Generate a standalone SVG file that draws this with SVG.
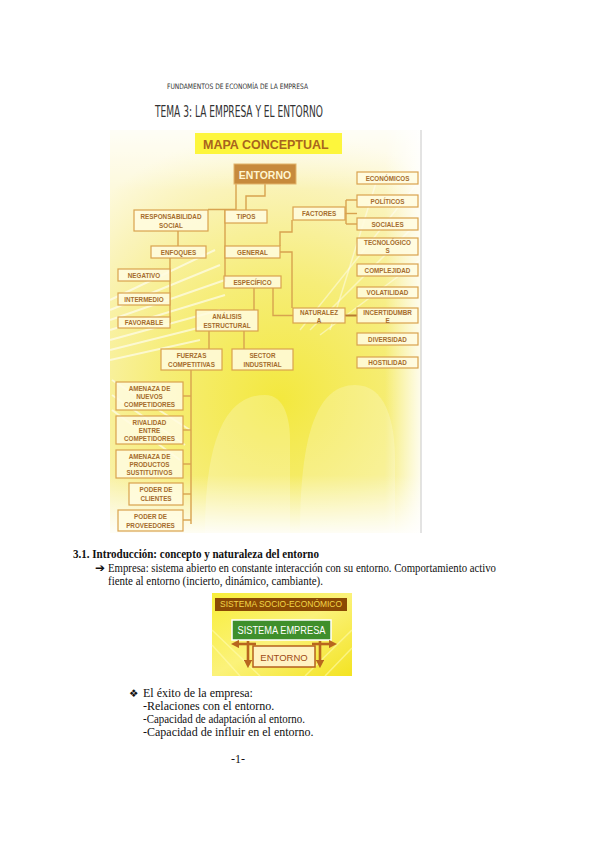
<svg xmlns="http://www.w3.org/2000/svg" width="600" height="848" viewBox="0 0 600 848">
<defs>
<radialGradient id="bg" cx="280" cy="400" r="270" gradientUnits="userSpaceOnUse">
<stop offset="0" stop-color="#f3e83e"/>
<stop offset="0.45" stop-color="#f6ed78"/>
<stop offset="0.8" stop-color="#faf3b8"/>
<stop offset="1" stop-color="#fdf9dc"/>
</radialGradient>
<linearGradient id="fadeB" x1="0" y1="0" x2="0" y2="1">
<stop offset="0" stop-color="#ffffff" stop-opacity="0"/>
<stop offset="1" stop-color="#ffffff" stop-opacity="0.9"/>
</linearGradient>
<linearGradient id="fadeR" x1="0" y1="0" x2="1" y2="0">
<stop offset="0" stop-color="#ffffff" stop-opacity="0"/>
<stop offset="1" stop-color="#ffffff" stop-opacity="0.85"/>
</linearGradient>
<linearGradient id="fadeT" x1="0" y1="0" x2="0" y2="1">
<stop offset="0" stop-color="#ffffff" stop-opacity="0.75"/>
<stop offset="1" stop-color="#ffffff" stop-opacity="0"/>
</linearGradient>
<linearGradient id="sbg" x1="0" y1="0" x2="1" y2="1">
<stop offset="0" stop-color="#f8ee3a"/>
<stop offset="0.5" stop-color="#fbf27a"/>
<stop offset="1" stop-color="#f3e322"/>
</linearGradient>
<marker id="ah" viewBox="0 0 10 10" refX="5" refY="5" markerWidth="3.2" markerHeight="3.2" orient="auto">
<path d="M0,0 L10,5 L0,10 z" fill="#b8661e"/>
</marker>
<style>
.bx{fill:#fffbe0;fill-opacity:0.85;stroke:#d9a24e;stroke-width:1.2}
.t{font-family:"Liberation Sans",Arial,sans-serif;font-size:6.3px;font-weight:bold;fill:#a56c2c;text-anchor:middle;dominant-baseline:central}
.cn path{fill:none;stroke:#d8a34f;stroke-width:1.4}
.body{font-family:"Liberation Serif","Times New Roman",serif;font-size:12px;fill:#111}
.hd{font-family:"DejaVu Sans Condensed","DejaVu Sans",sans-serif;fill:#333}
</style>
</defs>
<rect width="600" height="848" fill="#ffffff"/>

<!-- header -->
<text class="hd" x="167" y="89" font-size="7.5" fill="#666" textLength="141" lengthAdjust="spacingAndGlyphs">FUNDAMENTOS DE ECONOMÍA DE LA EMPRESA</text>
<text class="hd" x="155" y="117" font-size="16" textLength="168" lengthAdjust="spacingAndGlyphs">TEMA 3: LA EMPRESA Y EL ENTORNO</text>

<!-- map background -->
<g id="map-bg">
<rect x="110" y="130" width="311" height="403" fill="url(#bg)"/>
<rect x="110" y="130" width="311" height="60" fill="url(#fadeT)"/>
<rect x="385" y="130" width="36" height="403" fill="url(#fadeR)"/>
<rect x="110" y="475" width="311" height="58" fill="url(#fadeB)"/>
<g stroke="#ffffff" stroke-opacity="0.6" stroke-width="2">
<path d="M110,300 L215,250"/><path d="M110,310 L220,265"/><path d="M110,320 L225,280"/><path d="M110,330 L225,295"/><path d="M110,340 L220,310"/><path d="M110,350 L210,325"/><path d="M110,360 L200,340"/>
<path d="M112,380 L190,430"/><path d="M112,395 L185,445"/><path d="M112,410 L180,460"/>
</g>
<g stroke="#ffffff" stroke-opacity="0.45" stroke-width="1.5">
<path d="M300,330 L420,180"/><path d="M310,330 L420,220"/><path d="M320,335 L420,260"/><path d="M330,330 L380,170"/>
</g>
<path d="M205,533 C205,430 230,395 265,395 C285,395 290,420 290,440 L290,533 Z" fill="#ffffff" fill-opacity="0.22"/>
<path d="M300,533 C300,440 315,385 355,385 C385,385 395,420 395,460 L395,533 Z" fill="#ffffff" fill-opacity="0.22"/>
<path d="M421,130 V533" stroke="#c8c8c8" stroke-width="1"/>
</g>

<g id="title-box">
<rect x="195" y="133" width="147" height="21" fill="#fdf63c"/>
<text x="203" y="148.5" font-family="Liberation Sans,Arial,sans-serif" font-size="12.5" font-weight="bold" fill="#a8641e">MAPA CONCEPTUAL</text>
</g>

<g id="connectors" class="cn">
<path d="M236,184 V209.5 H208"/>
<path d="M265,184 V196 H246 V210"/>
<path d="M225,209.5 V282"/>
<path d="M178,231 V246"/>
<path d="M170,258 V323"/>
<path d="M280,252 H292 V308"/>
<path d="M280,246 V232 H292 V220"/>
<path d="M273,288 V315.5 H293"/>
<path d="M254,288 V310"/>
<path d="M209,331 V349"/>
<path d="M244,331 V349"/>
<path d="M191,370 V524"/>
<path d="M183,396 H191"/><path d="M183,430 H191"/><path d="M183,464 H191"/><path d="M183,494 H191"/><path d="M183,520 H191"/>
<path d="M345,213.5 H357"/>
<path d="M346,200 V224"/>
<path d="M346,200 H357"/>
<path d="M346,224 H357"/>
<path d="M345,315.5 H357" style="stroke:#b77a30;stroke-width:2"/>
</g>

<g id="entorno"><rect x="234" y="164" width="62" height="20" fill="#c78a3c" stroke="#e2b46a" stroke-width="1"/><text x="265" y="174.5" font-family="Liberation Sans,Arial,sans-serif" font-size="10.5" font-weight="bold" fill="#fff6d0" text-anchor="middle" dominant-baseline="central">ENTORNO</text></g>

<g id="resp"><rect class="bx" x="134" y="210" width="74" height="21"/><text class="t" x="171" y="216.5">RESPONSABILIDAD</text><text class="t" x="171" y="225">SOCIAL</text></g>
<g id="tipos"><rect class="bx" x="225" y="210" width="42" height="13"/><text class="t" x="246" y="216.5">TIPOS</text></g>
<g id="enfoques"><rect class="bx" x="151" y="246" width="55" height="12"/><text class="t" x="178.5" y="252">ENFOQUES</text></g>
<g id="general"><rect class="bx" x="225" y="246" width="55" height="12"/><text class="t" x="252.5" y="252">GENERAL</text></g>
<g id="especifico"><rect class="bx" x="224" y="276" width="57" height="12"/><text class="t" x="252.5" y="282">ESPECÍFICO</text></g>
<g id="negativo"><rect class="bx" x="118" y="269" width="52" height="12"/><text class="t" x="144" y="275">NEGATIVO</text></g>
<g id="intermedio"><rect class="bx" x="118" y="293" width="52" height="12"/><text class="t" x="144" y="299">INTERMEDIO</text></g>
<g id="favorable"><rect class="bx" x="118" y="317" width="52" height="11"/><text class="t" x="144" y="322.5">FAVORABLE</text></g>
<g id="analisis"><rect class="bx" x="196" y="310" width="62" height="21"/><text class="t" x="227" y="316.5">ANÁLISIS</text><text class="t" x="227" y="325">ESTRUCTURAL</text></g>
<g id="fuerzas"><rect class="bx" x="161" y="349" width="61" height="21"/><text class="t" x="191.5" y="355.5">FUERZAS</text><text class="t" x="191.5" y="364">COMPETITIVAS</text></g>
<g id="sector"><rect class="bx" x="232" y="349" width="61" height="21"/><text class="t" x="262.5" y="355.5">SECTOR</text><text class="t" x="262.5" y="364">INDUSTRIAL</text></g>
<g id="amenaza-nuevos"><rect class="bx" x="116" y="382" width="67" height="28"/><text class="t" x="149.5" y="388">AMENAZA DE</text><text class="t" x="149.5" y="396">NUEVOS</text><text class="t" x="149.5" y="404.5">COMPETIDORES</text></g>
<g id="rivalidad"><rect class="bx" x="116" y="416" width="67" height="28"/><text class="t" x="149.5" y="422">RIVALIDAD</text><text class="t" x="149.5" y="430.5">ENTRE</text><text class="t" x="149.5" y="438.5">COMPETIDORES</text></g>
<g id="amenaza-productos"><rect class="bx" x="116" y="450" width="67" height="28"/><text class="t" x="149.5" y="456">AMENAZA DE</text><text class="t" x="149.5" y="464">PRODUCTOS</text><text class="t" x="149.5" y="472" font-size="5.5px">SUSTITUTIVOS</text></g>
<g id="poder-clientes"><rect class="bx" x="129" y="483" width="54" height="22"/><text class="t" x="156" y="489.5">PODER DE</text><text class="t" x="156" y="498">CLIENTES</text></g>
<g id="poder-proveedores"><rect class="bx" x="118" y="510" width="65" height="21"/><text class="t" x="150.5" y="516.5">PODER DE</text><text class="t" x="150.5" y="525">PROVEEDORES</text></g>
<g id="factores"><rect class="bx" x="293" y="207" width="52" height="13"/><text class="t" x="319" y="213.5">FACTORES</text></g>
<g id="naturaleza"><rect class="bx" x="293" y="308" width="52" height="15"/><text class="t" x="319" y="312.5">NATURALEZ</text><text class="t" x="319" y="320">A</text></g>
<g id="economicos"><rect class="bx" x="357" y="172" width="61" height="12"/><text class="t" x="387.5" y="178">ECONÓMICOS</text></g>
<g id="politicos"><rect class="bx" x="357" y="195" width="61" height="12"/><text class="t" x="387.5" y="201">POLÍTICOS</text></g>
<g id="sociales"><rect class="bx" x="357" y="218" width="61" height="12"/><text class="t" x="387.5" y="224">SOCIALES</text></g>
<g id="tecnologicos"><rect class="bx" x="357" y="238" width="61" height="17"/><text class="t" x="387.5" y="242.5">TECNOLÓGICO</text><text class="t" x="387.5" y="250">S</text></g>
<g id="complejidad"><rect class="bx" x="357" y="264" width="61" height="12"/><text class="t" x="387.5" y="270">COMPLEJIDAD</text></g>
<g id="volatilidad"><rect class="bx" x="357" y="287" width="61" height="11"/><text class="t" x="387.5" y="292.5">VOLATILIDAD</text></g>
<g id="incertidumbre"><rect class="bx" x="357" y="308" width="61" height="15"/><text class="t" x="387.5" y="312.5">INCERTIDUMBR</text><text class="t" x="387.5" y="320">E</text></g>
<g id="diversidad"><rect class="bx" x="357" y="333" width="61" height="12"/><text class="t" x="387.5" y="339">DIVERSIDAD</text></g>
<g id="hostilidad"><rect class="bx" x="357" y="357" width="61" height="11"/><text class="t" x="387.5" y="362.5">HOSTILIDAD</text></g>

<!-- section text -->
<text class="body" x="73" y="558" font-weight="bold" textLength="246" lengthAdjust="spacingAndGlyphs">3.1. Introducción: concepto y naturaleza del entorno</text>
<text class="body" x="95" y="572" font-family="DejaVu Sans,sans-serif" font-size="11">➔</text>
<text class="body" x="108" y="572" textLength="388" lengthAdjust="spacingAndGlyphs">Empresa: sistema abierto en constante interacción con su  entorno. Comportamiento activo</text>
<text class="body" x="108" y="585" textLength="215" lengthAdjust="spacingAndGlyphs">fiente al entorno (incierto, dinámico, cambiante).</text>

<!-- small diagram -->
<g id="socio-diagram">
<rect x="212" y="593" width="140" height="83" fill="url(#sbg)"/>
<g stroke="#fffbb0" stroke-opacity="0.6" stroke-width="1.5">
<path d="M212,630 L260,676"/><path d="M212,645 L240,676"/><path d="M352,630 L305,676"/><path d="M352,648 L325,676"/>
</g>
<rect x="215" y="598" width="132" height="13" fill="#8b4a04"/>
<text x="281" y="604.8" font-family="Liberation Sans,Arial,sans-serif" font-size="8.2" fill="#f2d648" text-anchor="middle" dominant-baseline="central" textLength="122" lengthAdjust="spacingAndGlyphs">SISTEMA SOCIO-ECONÓMICO</text>
</g>
<g id="sistema-empresa">
<rect x="232" y="620" width="99" height="20" fill="#3f8f2c" stroke="#ffffff" stroke-width="1.5"/>
<text x="281.5" y="630.5" font-family="Liberation Sans,Arial,sans-serif" font-size="10" fill="#ffffff" text-anchor="middle" dominant-baseline="central" textLength="88" lengthAdjust="spacingAndGlyphs">SISTEMA EMPRESA</text>
</g>
<g id="entorno-small">
<rect x="253" y="646" width="62" height="21" fill="#fff2c2" stroke="#b5601c" stroke-width="1.5"/>
<text x="284" y="657" font-family="Liberation Sans,Arial,sans-serif" font-size="9.5" fill="#a04a14" text-anchor="middle" dominant-baseline="central">ENTORNO</text>
</g>
<g id="small-connectors" fill="none" stroke="#b8661e" stroke-width="2.6">
<path d="M256,644 H235" marker-end="url(#ah)"/>
<path d="M248,641 V664" marker-end="url(#ah)"/>
<path d="M312,644 H333" marker-end="url(#ah)"/>
<path d="M320,641 V664" marker-end="url(#ah)"/>
</g>

<!-- bullets -->
<text x="129" y="697" font-family="DejaVu Sans,sans-serif" font-size="10.5" fill="#111">❖</text>
<text class="body" x="143" y="697">El éxito de la empresa:</text>
<text class="body" x="143" y="710">-Relaciones con el entorno.</text>
<text class="body" x="143" y="723" textLength="162" lengthAdjust="spacingAndGlyphs">-Capacidad de adaptación al entorno.</text>
<text class="body" x="143" y="736">-Capacidad de influir en el entorno.</text>
<text class="body" x="238" y="763" text-anchor="middle">-1-</text>
</svg>
